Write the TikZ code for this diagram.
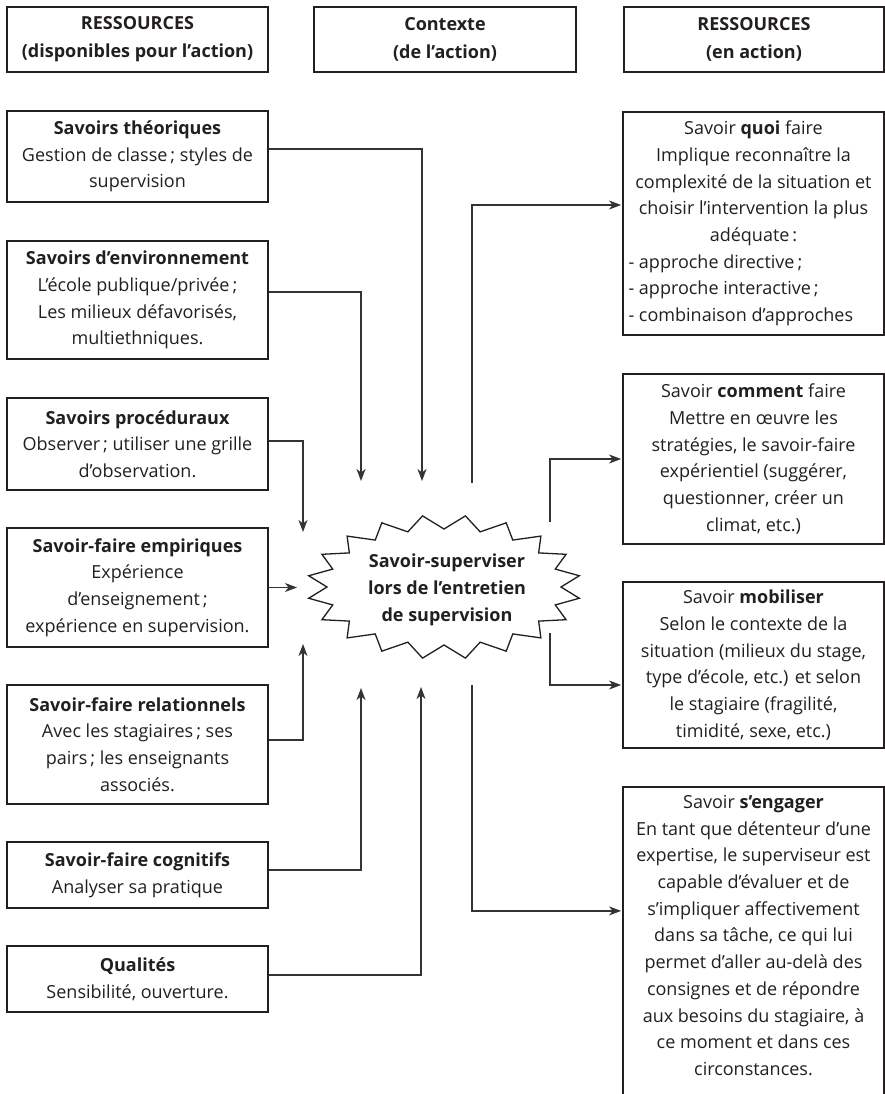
\documentclass[tikz,border=0pt]{standalone}
\usepackage{fontspec}
\setmainfont{Open Sans}
\usetikzlibrary{arrows.meta}
\definecolor{ink}{HTML}{231F20}
\definecolor{wirec}{HTML}{333333}
\newcommand{\txt}{\fontsize{18}{26.7}\selectfont}
\newcommand{\hdr}{\fontsize{18}{28}\selectfont\bfseries}
\begin{document}
\begin{tikzpicture}[x=1pt,y=-1pt,
  box/.style={draw=ink, line width=1.8pt, inner sep=0pt, minimum width=261pt, align=center, font=\txt, text=ink},
  hbox/.style={box, font=\hdr, minimum height=65pt},
  wire/.style={draw=wirec, line width=1.2pt},
  arr/.style={wire, shorten >=1pt, -{Stealth[length=12pt,width=9pt,inset=3.5pt]}},
  starline/.style={draw=ink, line width=1.3pt, line join=miter}
]
\useasboundingbox (0,0) rectangle (885,1094);
\fill[white] (0,0) rectangle (885,1094);
\clip (0,0) rectangle (885,1094);

% headers
\node[hbox] (h1) at (137.5,39.5) {RESSOURCES\\(disponibles pour l’action)};
\node[hbox, minimum width=262pt] (h2) at (445,39.5) {Contexte\\(de l’action)};
\node[hbox, minimum width=260pt] (h3) at (754,39.5) {RESSOURCES\\(en action)};

% left boxes
\node[box, minimum height=91pt] (b1) at (137.5,156.5) {\textbf{Savoirs théoriques}\\Gestion de classe\,; styles de\\supervision};
\node[box, minimum height=118pt] (b2) at (137.5,300) {\textbf{Savoirs d’environnement}\\L’école publique/privée\,;\\Les milieux défavorisés,\\multiethniques.};
\node[box, minimum height=92pt] (b3) at (137.5,444) {\textbf{Savoirs procéduraux}\\Observer\,; utiliser une grille\\d’observation.};
\node[box, minimum height=119pt] (b4) at (137.5,587.5) {\textbf{Savoir-faire empiriques}\\Expérience\\d’enseignement\,;\\expérience en supervision.};
\node[box, minimum height=119pt] (b5) at (137.5,744.5) {\textbf{Savoir-faire relationnels}\\Avec les stagiaires\,; ses\\pairs\,; les enseignants\\associés.};
\node[box, minimum height=66pt] (b6) at (137.5,875) {\textbf{Savoir-faire cognitifs}\\Analyser sa pratique};
\node[box, minimum height=66pt] (b7) at (137.5,979) {\textbf{Qualités}\\Sensibilité, ouverture.};

% right boxes
\node[box, minimum height=223pt] (qa) at (753.5,223.5) {Savoir \textbf{quoi} faire\\Implique reconnaître la\\complexité de la situation et\\choisir l’intervention la plus\\adéquate\,:\\\makebox[250pt][l]{- approche directive\,;}\\\makebox[250pt][l]{- approche interactive\,;}\\\makebox[250pt][l]{- combinaison d’approches}};
\node[box, minimum height=170pt] (qb) at (753.5,459) {Savoir \textbf{comment} faire\\Mettre en œuvre les\\stratégies, le savoir-faire\\expérientiel (suggérer,\\questionner, créer un\\climat, etc.)};
\node[box, minimum height=166pt] (qc) at (753.5,665) {Savoir \textbf{mobiliser}\\Selon le contexte de la\\situation (milieux du stage,\\type d’école, etc.) et selon\\le stagiaire (fragilité,\\timidité, sexe, etc.)};
\node[box, minimum height=340pt, anchor=north] (qd) at (753.5,786) {};
\node[font=\txt, align=center, text=ink, anchor=north, inner sep=0pt] (qdt) at (753.5,795) {Savoir \textbf{s’engager}\\En tant que détenteur d’une\\expertise, le superviseur est\\capable d’évaluer et de\\s’impliquer affectivement\\dans sa tâche, ce qui lui\\permet d’aller au-delà des\\consignes et de répondre\\aux besoins du stagiaire, à\\ce moment et dans ces\\circonstances.};

% central starburst
\draw[starline] plot[samples=41, domain=0:360, variable=\t]
  ({444+cos(\t)*(117+20*mod(round(\t/9),2))}, {587+sin(\t)*(58+14*mod(round(\t/9),2))}) -- cycle;
\node[font=\fontsize{18}{26.7}\selectfont\bfseries, align=center, text=ink] (star) at (447,590) {Savoir-superviser\\lors de l’entretien\\de supervision};

% free ends near the star
\coordinate (t1) at (422,482);
\coordinate (t2) at (361,482);
\coordinate (t3) at (303,533);
\coordinate (t4) at (298,587.5);
\coordinate (t5) at (303,643);
\coordinate (t6) at (361,687);
\coordinate (t7) at (421,686);
\coordinate (s1) at (472,483);
\coordinate (s2) at (550,522);
\coordinate (s3) at (550,633);
\coordinate (s4) at (472,685);

% connectors in
\draw[arr] ([yshift=7.5pt]b1.east) -| (t1);
\draw[arr] ([yshift=8pt]b2.east) -| (t2);
\draw[arr] ([yshift=3pt]b3.east) -| (t3);
\draw[arr] (b4.east) -- (t4);
\draw[arr] ([yshift=4.5pt]b5.east) -| (t5);
\draw[arr] ([yshift=5pt]b6.east) -| (t6);
\draw[arr] ([yshift=4pt]b7.east) -| (t7);

% connectors out
\draw[arr] (s1) |- ([yshift=18.5pt]qa.west);
\draw[arr] (s2) |- (qb.west);
\draw[arr] (s3) |- ([yshift=-20pt]qc.west);
\draw[arr] (s4) |- ([yshift=46pt]qd.west);
\end{tikzpicture}
\end{document}
